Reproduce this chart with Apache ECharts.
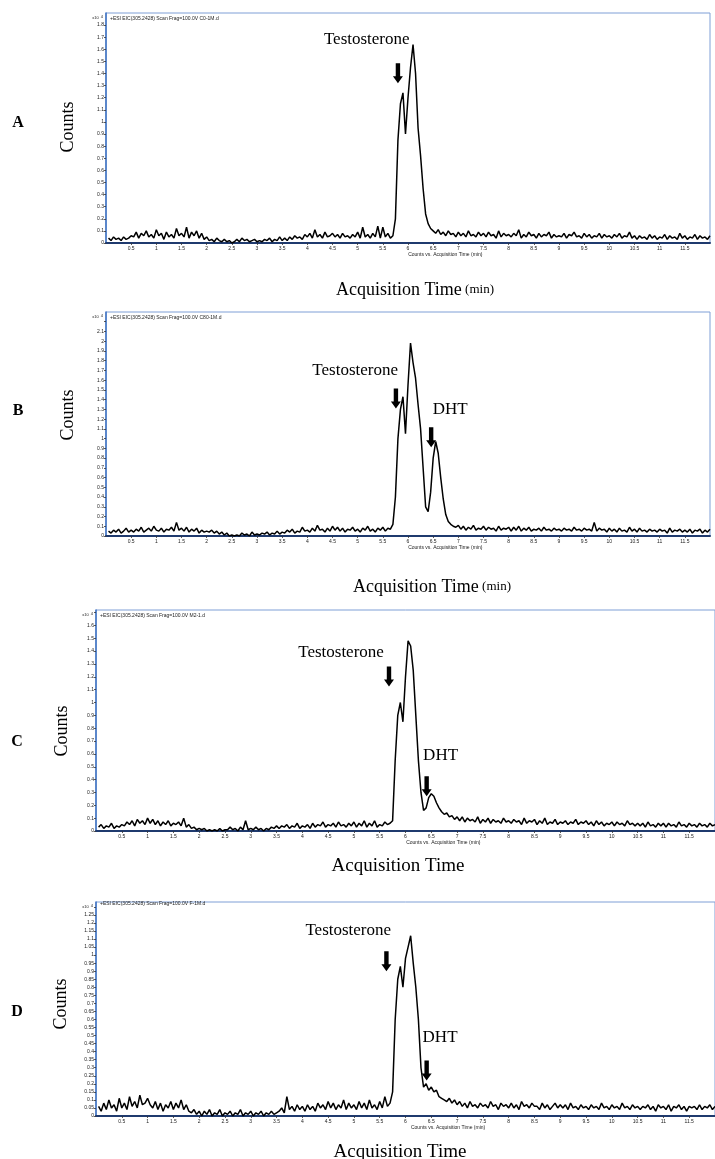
<!DOCTYPE html>
<html lang="en">
<head>
<meta charset="utf-8">
<title>EIC chromatograms A-D</title>
<script src="https://cdn.jsdelivr.net/npm/echarts@6/dist/echarts.min.js"></script>
<style>
  html, body { margin: 0; padding: 0; background: #fff; }
  #main { width: 715px; height: 1159px; }
</style>
</head>
<body>
<div id="main"></div>
<script>
// sampling of every trace: first point and step, in minutes
var t0 = 0.05;
var dt = 0.05;

// counts (x10^4), one value per 0.05 min, 0.05 .. 12.00
var countsA = [
  0.04,0.02,0.05,0.03,0.04,0.02,0.05,0.03,0.04,0.06,
  0.05,0.09,0.04,0.08,0.06,0.10,0.05,0.07,0.04,0.11,
  0.06,0.08,0.03,0.09,0.05,0.07,0.04,0.12,0.06,0.08,
  0.05,0.13,0.04,0.09,0.06,0.10,0.04,0.08,0.03,0.05,
  0.02,0.03,0.01,0.04,0.02,0.01,0.03,0.01,0.02,0.00,
  0.01,0.03,0.01,0.04,0.02,0.03,0.01,0.02,0.03,0.01,
  0.02,0.01,0.03,0.02,0.04,0.01,0.03,0.02,0.05,0.02,
  0.04,0.02,0.05,0.03,0.06,0.04,0.05,0.03,0.07,0.05,
  0.08,0.04,0.11,0.05,0.07,0.04,0.09,0.05,0.06,0.08,
  0.05,0.07,0.04,0.08,0.05,0.06,0.04,0.07,0.05,0.09,
  0.04,0.13,0.05,0.07,0.04,0.08,0.05,0.14,0.04,0.13,
  0.05,0.08,0.04,0.06,0.20,0.85,1.15,1.24,0.90,1.20,
  1.45,1.64,1.40,0.95,0.72,0.45,0.24,0.16,0.12,0.10,
  0.08,0.11,0.07,0.09,0.06,0.10,0.07,0.08,0.05,0.09,
  0.06,0.08,0.05,0.10,0.06,0.07,0.05,0.09,0.06,0.08,
  0.05,0.09,0.06,0.07,0.04,0.10,0.05,0.08,0.06,0.07,
  0.05,0.08,0.06,0.11,0.04,0.07,0.05,0.09,0.06,0.07,
  0.04,0.08,0.05,0.07,0.06,0.09,0.04,0.07,0.05,0.06,
  0.05,0.08,0.04,0.07,0.06,0.09,0.05,0.06,0.04,0.08,
  0.05,0.07,0.04,0.06,0.05,0.08,0.04,0.07,0.05,0.06,
  0.04,0.07,0.05,0.08,0.04,0.06,0.05,0.09,0.04,0.06,
  0.03,0.06,0.04,0.05,0.03,0.07,0.04,0.06,0.03,0.05,
  0.04,0.07,0.03,0.06,0.04,0.05,0.03,0.08,0.04,0.06,
  0.03,0.05,0.04,0.07,0.03,0.06,0.04,0.05,0.03,0.06
];

var countsB = [
  0.05,0.03,0.06,0.04,0.07,0.03,0.05,0.08,0.04,0.06,
  0.04,0.07,0.05,0.09,0.04,0.06,0.08,0.05,0.10,0.06,
  0.05,0.08,0.04,0.07,0.06,0.09,0.05,0.14,0.06,0.08,
  0.05,0.09,0.04,0.07,0.05,0.08,0.03,0.06,0.04,0.05,
  0.04,0.06,0.03,0.05,0.02,0.04,0.01,0.03,0.00,0.01,
  0.00,0.01,0.00,0.03,0.01,0.02,0.00,0.04,0.01,0.02,
  0.01,0.03,0.02,0.04,0.01,0.03,0.02,0.05,0.02,0.04,
  0.03,0.06,0.04,0.07,0.03,0.05,0.04,0.09,0.05,0.06,
  0.04,0.08,0.05,0.11,0.06,0.07,0.04,0.08,0.05,0.10,
  0.06,0.09,0.05,0.08,0.04,0.07,0.06,0.09,0.05,0.07,
  0.04,0.08,0.06,0.10,0.05,0.07,0.04,0.08,0.06,0.09,
  0.05,0.08,0.07,0.12,0.40,1.00,1.30,1.43,1.05,1.55,
  1.98,1.78,1.62,1.35,1.10,0.70,0.30,0.25,0.45,0.80,
  0.97,0.85,0.60,0.38,0.22,0.15,0.12,0.10,0.09,0.11,
  0.07,0.10,0.06,0.09,0.07,0.11,0.06,0.08,0.07,0.10,
  0.06,0.09,0.07,0.08,0.05,0.10,0.06,0.08,0.07,0.09,
  0.05,0.09,0.06,0.10,0.05,0.08,0.06,0.09,0.05,0.07,
  0.06,0.08,0.05,0.09,0.06,0.07,0.05,0.08,0.06,0.07,
  0.05,0.08,0.06,0.07,0.05,0.09,0.06,0.07,0.05,0.08,
  0.06,0.07,0.05,0.14,0.05,0.08,0.06,0.07,0.04,0.08,
  0.05,0.07,0.04,0.08,0.05,0.06,0.04,0.09,0.05,0.07,
  0.04,0.08,0.05,0.06,0.04,0.07,0.05,0.06,0.04,0.07,
  0.05,0.06,0.03,0.08,0.04,0.06,0.05,0.07,0.04,0.06,
  0.04,0.07,0.03,0.06,0.05,0.07,0.03,0.06,0.04,0.07
];

var countsC = [
  0.03,0.05,0.02,0.04,0.03,0.06,0.02,0.04,0.03,0.05,
  0.04,0.07,0.05,0.08,0.04,0.09,0.06,0.08,0.05,0.10,
  0.06,0.09,0.05,0.08,0.04,0.07,0.05,0.08,0.04,0.06,
  0.05,0.07,0.04,0.10,0.03,0.05,0.02,0.03,0.01,0.02,
  0.01,0.02,0.00,0.01,0.00,0.01,0.00,0.02,0.00,0.01,
  0.01,0.03,0.01,0.02,0.00,0.03,0.01,0.08,0.01,0.02,
  0.01,0.03,0.01,0.02,0.00,0.02,0.01,0.03,0.02,0.04,
  0.02,0.04,0.03,0.05,0.02,0.04,0.03,0.06,0.02,0.04,
  0.03,0.05,0.02,0.06,0.03,0.05,0.04,0.07,0.03,0.05,
  0.04,0.06,0.03,0.07,0.04,0.05,0.03,0.06,0.04,0.07,
  0.03,0.06,0.04,0.08,0.03,0.06,0.04,0.08,0.03,0.05,
  0.04,0.07,0.05,0.06,0.08,0.55,0.90,1.00,0.85,1.20,
  1.48,1.44,1.25,0.90,0.55,0.30,0.16,0.18,0.26,0.29,
  0.27,0.22,0.18,0.15,0.13,0.14,0.11,0.12,0.09,0.11,
  0.08,0.11,0.07,0.10,0.08,0.09,0.07,0.11,0.06,0.09,
  0.07,0.10,0.06,0.09,0.07,0.08,0.06,0.10,0.07,0.08,
  0.06,0.09,0.07,0.08,0.05,0.10,0.06,0.08,0.07,0.09,
  0.05,0.08,0.06,0.10,0.05,0.07,0.06,0.09,0.05,0.07,
  0.06,0.08,0.05,0.07,0.06,0.09,0.05,0.07,0.06,0.08,
  0.05,0.07,0.04,0.08,0.05,0.07,0.04,0.06,0.05,0.07,
  0.04,0.07,0.05,0.06,0.04,0.08,0.05,0.06,0.04,0.06,
  0.04,0.06,0.03,0.07,0.04,0.05,0.03,0.06,0.04,0.06,
  0.03,0.06,0.04,0.05,0.03,0.07,0.04,0.05,0.03,0.06,
  0.04,0.05,0.03,0.06,0.04,0.05,0.03,0.06,0.04,0.05
];

var countsD = [
  0.06,0.03,0.08,0.04,0.10,0.05,0.07,0.03,0.11,0.05,
  0.08,0.04,0.12,0.06,0.09,0.05,0.13,0.07,0.08,0.11,
  0.07,0.05,0.09,0.04,0.08,0.03,0.07,0.05,0.09,0.04,
  0.08,0.05,0.10,0.04,0.07,0.03,0.02,0.04,0.01,0.03,
  0.00,0.03,0.01,0.04,0.00,0.02,0.01,0.04,0.00,0.02,
  0.01,0.03,0.00,0.02,0.01,0.04,0.00,0.02,0.01,0.03,
  0.00,0.02,0.01,0.03,0.00,0.02,0.01,0.03,0.01,0.02,
  0.03,0.05,0.02,0.12,0.04,0.06,0.03,0.07,0.04,0.06,
  0.03,0.07,0.04,0.06,0.03,0.08,0.05,0.07,0.04,0.09,
  0.05,0.08,0.04,0.07,0.05,0.10,0.04,0.08,0.05,0.07,
  0.04,0.09,0.05,0.08,0.04,0.10,0.05,0.07,0.04,0.09,
  0.05,0.12,0.06,0.08,0.15,0.60,0.85,0.93,0.80,0.98,
  1.05,1.12,0.95,0.80,0.60,0.30,0.18,0.20,0.16,0.18,
  0.15,0.16,0.12,0.11,0.10,0.09,0.11,0.08,0.10,0.07,
  0.09,0.06,0.08,0.05,0.09,0.06,0.07,0.05,0.08,0.06,
  0.07,0.05,0.09,0.06,0.07,0.04,0.08,0.06,0.07,0.05,
  0.08,0.05,0.07,0.04,0.09,0.06,0.07,0.05,0.08,0.06,
  0.06,0.04,0.08,0.05,0.07,0.04,0.06,0.08,0.05,0.07,
  0.05,0.07,0.04,0.08,0.05,0.06,0.04,0.07,0.05,0.06,
  0.04,0.07,0.05,0.06,0.04,0.08,0.05,0.06,0.04,0.07,
  0.05,0.06,0.04,0.08,0.05,0.06,0.04,0.07,0.05,0.06,
  0.04,0.06,0.05,0.07,0.04,0.06,0.03,0.07,0.05,0.06,
  0.04,0.07,0.03,0.06,0.05,0.07,0.04,0.06,0.03,0.06,
  0.05,0.06,0.04,0.07,0.04,0.06,0.05,0.07,0.04,0.06
];

var fileNames = ['C0-1M.d', 'C80-1M.d', 'M2-1.d', 'F-1M.d'];
var panelLetters = ['A', 'B', 'C', 'D'];
var yMaxes = [1.9, 2.3, 1.72, 1.33];
var yIntervals = [0.1, 0.1, 0.1, 0.05];
var yLabelCaps = [1.8, 2.1, 1.6, 1.25];

var serif = '"Liberation Serif", "Times New Roman", serif';
var sans = '"Liberation Sans", Arial, sans-serif';

// plot-area boxes
var panels = [
  { data: countsA, left: 106, top: 13,  width: 604, height: 230,
    letter: [18, 123], counts: [68, 127], xName: [415, 290], unit: true, nameSize: 18,
    notes: [{ text: 'Testosterone', at: [5.18, 1.68], arrow: [5.80, 1.32] }] },
  { data: countsB, left: 106, top: 312, width: 604, height: 224,
    letter: [18, 411], counts: [68, 415], xName: [432, 587], unit: true, nameSize: 18,
    notes: [{ text: 'Testosterone', at: [4.95, 1.70], arrow: [5.76, 1.31] },
            { text: 'DHT', at: [6.84, 1.30], arrow: [6.46, 0.91] }] },
  { data: countsC, left: 96,  top: 610, width: 619, height: 221,
    letter: [17, 742], counts: [62, 731], xName: [398, 866], unit: false, nameSize: 19,
    notes: [{ text: 'Testosterone', at: [4.75, 1.39], arrow: [5.68, 1.125] },
            { text: 'DHT', at: [6.68, 0.59], arrow: [6.41, 0.27] }] },
  { data: countsD, left: 96,  top: 902, width: 628, height: 214,
    letter: [17, 1012], counts: [61, 1004], xName: [400, 1152], unit: false, nameSize: 19,
    notes: [{ text: 'Testosterone', at: [4.89, 1.15], arrow: [5.63, 0.90] },
            { text: 'DHT', at: [6.67, 0.49], arrow: [6.41, 0.22] }] }
];

function pairs(values) {
  var out = [];
  for (var i = 0; i < values.length; i++) {
    out.push([+(t0 + i * dt).toFixed(2), values[i]]);
  }
  return out;
}

var grids = [], xAxes = [], yAxes = [], series = [], graphics = [];

panels.forEach(function (p, k) {
  grids.push({
    left: p.left, top: p.top, width: p.width, height: p.height,
    show: true, borderColor: '#7F9FD6', borderWidth: 1, backgroundColor: 'transparent'
  });
  xAxes.push({
    type: 'value', gridIndex: k, min: 0, max: 12, interval: 0.5,
    axisLine: { show: true, lineStyle: { color: '#1F3A6E', width: 2 } },
    axisTick: { show: true, length: 2, lineStyle: { color: '#333', width: 0.8 } },
    axisLabel: {
      fontSize: 5, color: '#222', fontFamily: sans, margin: 3,
      showMinLabel: false, showMaxLabel: false,
      formatter: function (v) { return String(+v.toFixed(2)); }
    },
    splitLine: { show: false }
  });
  yAxes.push({
    type: 'value', gridIndex: k, min: 0, max: yMaxes[k], interval: yIntervals[k],
    axisLine: { show: true, lineStyle: { color: '#3A6FC0', width: 1.5 } },
    axisTick: { show: true, length: 2, lineStyle: { color: '#333', width: 0.8 } },
    axisLabel: {
      fontSize: 5, color: '#222', fontFamily: sans, margin: 2,
      showMaxLabel: false,
      formatter: function (v) {
        return v > yLabelCaps[k] + 1e-6 ? '' : String(+v.toFixed(2));
      }
    },
    splitLine: { show: false }
  });
  series.push({
    type: 'line', xAxisIndex: k, yAxisIndex: k,
    data: pairs(p.data),
    showSymbol: false, symbol: 'none', animation: false,
    lineStyle: { color: '#000', width: 1.5 },
    clip: true
  });

  // panel letter, y title, x title
  graphics.push({
    type: 'text', x: p.letter[0], y: p.letter[1],
    style: { text: panelLetters[k], font: 'bold 16px ' + serif, fill: '#000', align: 'center', verticalAlign: 'middle' }
  });
  graphics.push({
    type: 'text', x: p.counts[0], y: p.counts[1], rotation: Math.PI / 2,
    style: { text: 'Counts', font: '18px ' + serif, fill: '#000', align: 'center', verticalAlign: 'middle' }
  });
  graphics.push({
    type: 'text', x: p.xName[0], y: p.xName[1],
    style: {
      text: p.unit ? '{a|Acquisition Time}{b| (min)}' : '{a|Acquisition Time}',
      align: 'center', verticalAlign: 'middle',
      rich: {
        a: { fontFamily: serif, fontSize: p.nameSize, fill: '#000' },
        b: { fontFamily: serif, fontSize: 13, fill: '#000' }
      }
    }
  });
  // instrument header and small axis captions
  graphics.push({
    type: 'text', x: p.left + 4, y: p.top + (k === 3 ? 2 : 6),
    style: { text: '+ESI EIC(305.2428) Scan Frag=100.0V ' + fileNames[k], font: '5px ' + sans, fill: '#222', verticalAlign: 'middle' }
  });
  graphics.push({
    type: 'text', x: p.left - 3, y: p.top + 5,
    style: {
      text: '{a|x10}{b|4}', align: 'right', verticalAlign: 'middle',
      rich: { a: { fontFamily: sans, fontSize: 4, fill: '#222' }, b: { fontFamily: sans, fontSize: 4, fill: '#222', verticalAlign: 'top', padding: [0, 0, 3, 2] } }
    }
  });
  graphics.push({
    type: 'text', x: p.left + 6.4 * (p.width / 12) - 20, y: p.top + p.height + 12,
    style: { text: 'Counts vs. Acquisition Time (min)', font: '5px ' + sans, fill: '#222', verticalAlign: 'middle' }
  });
});

var chart = echarts.init(document.getElementById('main'), null, { renderer: 'canvas' });
chart.setOption({
  backgroundColor: '#fff',
  animation: false,
  grid: grids,
  xAxis: xAxes,
  yAxis: yAxes,
  series: series,
  graphic: graphics
});

// annotations placed in data coordinates
panels.forEach(function (p, k) {
  p.notes.forEach(function (n) {
    var tp = chart.convertToPixel({ gridIndex: k }, n.at);
    var ap = chart.convertToPixel({ gridIndex: k }, n.arrow);
    graphics.push({
      type: 'text', x: tp[0], y: tp[1],
      style: { text: n.text, font: '17px ' + serif, fill: '#000', align: 'center', verticalAlign: 'middle' }
    });
    graphics.push({
      type: 'polygon', x: ap[0], y: ap[1],
      shape: { points: [[-2.2, -20], [2.2, -20], [2.2, -7], [5, -7], [0, 0], [-5, -7], [-2.2, -7]] },
      style: { fill: '#000' }
    });
  });
});
chart.setOption({ graphic: graphics });
</script>
</body>
</html>
